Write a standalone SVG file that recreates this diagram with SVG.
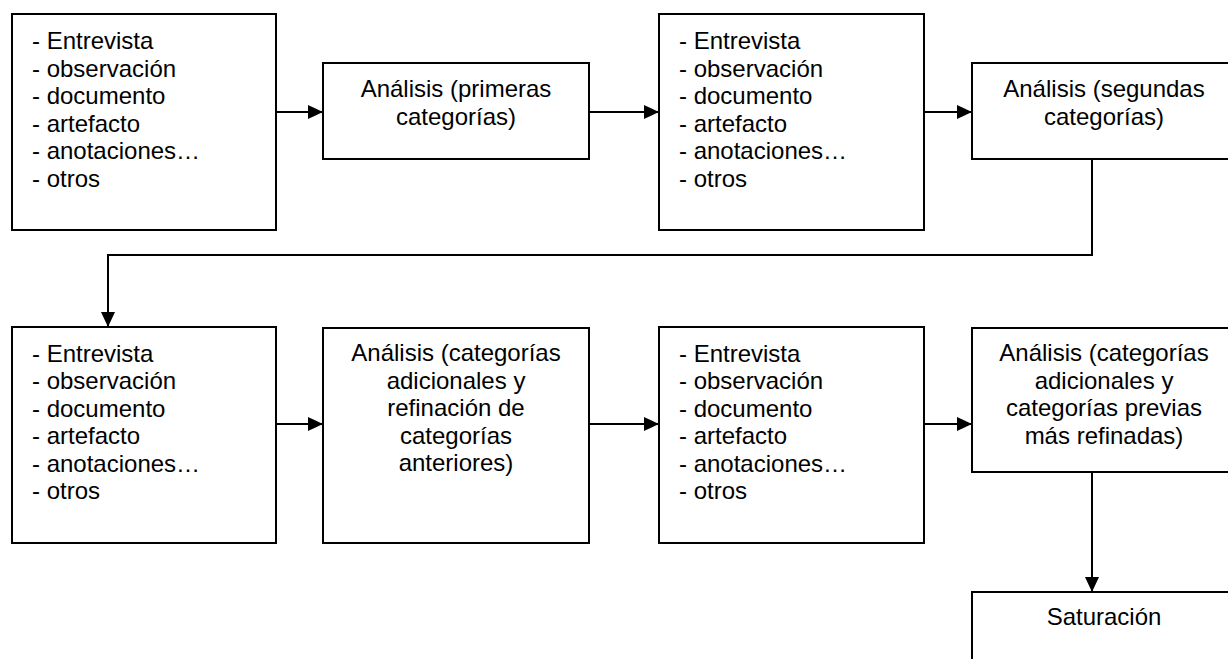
<svg xmlns="http://www.w3.org/2000/svg" width="1228" height="659" viewBox="0 0 1228 659">
<style>
.box{fill:#fff;stroke:#000;stroke-width:2}
.t{font-family:"Liberation Sans",Arial,sans-serif;font-size:24px;fill:#000}
.c{text-anchor:middle}
.ln{fill:none;stroke:#000;stroke-width:2}
</style>
<defs>
<marker id="ah" markerWidth="15" markerHeight="14" refX="15" refY="7" orient="auto" markerUnits="userSpaceOnUse">
<path d="M0,0 L15,7 L0,14 Z" fill="#000"/>
</marker>
</defs>
<rect width="1228" height="659" fill="#fff"/>
<g id="connectors">
<line class="ln" x1="276" y1="112" x2="323" y2="112" marker-end="url(#ah)"/>
<line class="ln" x1="589" y1="112" x2="659" y2="112" marker-end="url(#ah)"/>
<line class="ln" x1="924" y1="112" x2="972" y2="112" marker-end="url(#ah)"/>
<polyline class="ln" points="1092,159 1092,255 108,255 108,327" marker-end="url(#ah)"/>
<line class="ln" x1="276" y1="424" x2="323" y2="424" marker-end="url(#ah)"/>
<line class="ln" x1="589" y1="424" x2="659" y2="424" marker-end="url(#ah)"/>
<line class="ln" x1="924" y1="424" x2="972" y2="424" marker-end="url(#ah)"/>
<line class="ln" x1="1092" y1="472" x2="1092" y2="592" marker-end="url(#ah)"/>
</g>
<g id="n1">
<rect class="box" x="12" y="14" width="264" height="216"/>
<text class="t" x="32" y="49.3">- Entrevista<tspan x="32" dy="27.5">- observación</tspan><tspan x="32" dy="27.5">- documento</tspan><tspan x="32" dy="27.5">- artefacto</tspan><tspan x="32" dy="27.5">- anotaciones…</tspan><tspan x="32" dy="27.5">- otros</tspan></text>
</g>
<g id="n2">
<rect class="box" x="323" y="63" width="266" height="96"/>
<text class="t c" x="456" y="97">Análisis (primeras<tspan x="456" dy="27.5">categorías)</tspan></text>
</g>
<g id="n3">
<rect class="box" x="659" y="14" width="265" height="216"/>
<text class="t" x="679" y="49.3">- Entrevista<tspan x="679" dy="27.5">- observación</tspan><tspan x="679" dy="27.5">- documento</tspan><tspan x="679" dy="27.5">- artefacto</tspan><tspan x="679" dy="27.5">- anotaciones…</tspan><tspan x="679" dy="27.5">- otros</tspan></text>
</g>
<g id="n4">
<rect class="box" x="972" y="63" width="264" height="96"/>
<text class="t c" x="1104" y="97">Análisis (segundas<tspan x="1104" dy="27.5">categorías)</tspan></text>
</g>
<g id="n5">
<rect class="box" x="12" y="327" width="264" height="216"/>
<text class="t" x="32" y="361.5">- Entrevista<tspan x="32" dy="27.5">- observación</tspan><tspan x="32" dy="27.5">- documento</tspan><tspan x="32" dy="27.5">- artefacto</tspan><tspan x="32" dy="27.5">- anotaciones…</tspan><tspan x="32" dy="27.5">- otros</tspan></text>
</g>
<g id="n6">
<rect class="box" x="323" y="328" width="266" height="215"/>
<text class="t c" x="456" y="361">Análisis (categorías<tspan x="456" dy="27.5">adicionales y</tspan><tspan x="456" dy="27.5">refinación de</tspan><tspan x="456" dy="27.5">categorías</tspan><tspan x="456" dy="27.5">anteriores)</tspan></text>
</g>
<g id="n7">
<rect class="box" x="659" y="327" width="265" height="216"/>
<text class="t" x="679" y="361.5">- Entrevista<tspan x="679" dy="27.5">- observación</tspan><tspan x="679" dy="27.5">- documento</tspan><tspan x="679" dy="27.5">- artefacto</tspan><tspan x="679" dy="27.5">- anotaciones…</tspan><tspan x="679" dy="27.5">- otros</tspan></text>
</g>
<g id="n8">
<rect class="box" x="972" y="328" width="264" height="144"/>
<text class="t c" x="1104" y="361">Análisis (categorías<tspan x="1104" dy="27.5">adicionales y</tspan><tspan x="1104" dy="27.5">categorías previas</tspan><tspan x="1104" dy="27.5">más refinadas)</tspan></text>
</g>
<g id="n9">
<rect class="box" x="972" y="592" width="264" height="100"/>
<text class="t c" x="1104" y="625">Saturación</text>
</g>
</svg>
